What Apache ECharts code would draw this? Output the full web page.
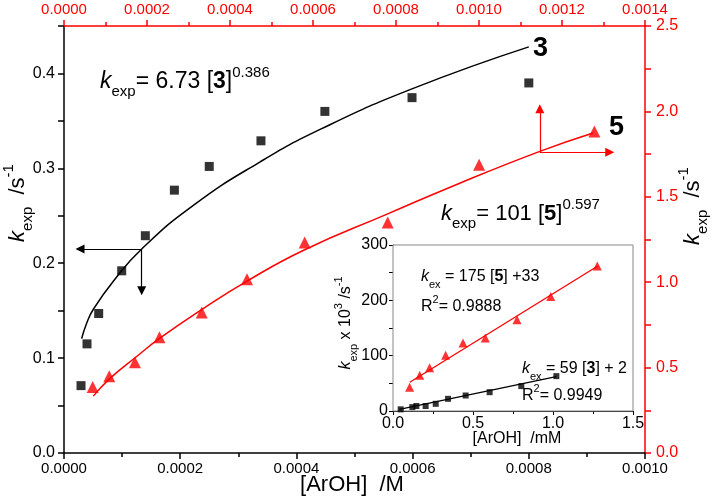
<!DOCTYPE html>
<html><head><meta charset="utf-8">
<script src="https://cdn.jsdelivr.net/npm/echarts@6/dist/echarts.min.js"></script>
<style>html,body{margin:0;padding:0;background:#fff}#c{width:718px;height:503px}</style>
</head><body><div id="c"></div>
<script>
const FONT = "'Liberation Sans', Arial, sans-serif";
const RED = '#ff0000';

// ---- main plot, compound 3 (bottom [ArOH]/M axis, left k_exp axis)
const x3 = [2.93e-5, 3.96e-5, 5.97e-5, 9.93e-5, 1.40e-4, 1.90e-4, 2.50e-4, 3.39e-4, 4.49e-4, 5.99e-4, 8.00e-4];
const y3 = [0.071, 0.115, 0.147, 0.192, 0.229, 0.277, 0.302, 0.329, 0.360, 0.3745, 0.390];
const fit3X = [3.04e-5, 3.9e-5, 5.05e-5, 8.49e-5, 1.337e-4, 2.226e-4, 3.37e-4, 4.435e-4, 6.0e-4, 8.0e-4];
const fit3Y = [0.1205, 0.1367, 0.1515, 0.181, 0.215, 0.261, 0.3066, 0.3418, 0.384, 0.428];

// ---- main plot, compound 5 (top [ArOH]/M axis, right k_exp axis)
const x5 = [6.91e-5, 1.09e-4, 1.71e-4, 2.30e-4, 3.32e-4, 4.41e-4, 5.80e-4, 7.80e-4, 1.0003e-3, 1.278e-3];
const y5 = [0.387, 0.450, 0.532, 0.677, 0.822, 1.018, 1.232, 1.350, 1.687, 1.882];
const fit5X = [7.06e-5, 1.108e-4, 1.751e-4, 2.31e-4, 3.32e-4, 4.40e-4, 5.80e-4, 7.80e-4, 9.42e-4, 1.1465e-3, 1.275e-3];
const fit5Y = [0.333, 0.437, 0.565, 0.672, 0.840, 1.005, 1.190, 1.400, 1.568, 1.766, 1.874];

// ---- axis-indicator arrows (data coordinates)
const arrow3From = [1.337e-4, 0.215];
const arrow3To = [[2.75e-5, 0.215], [1.337e-4, 0.171]];
const arrow5From = [1.1465e-3, 1.7606];
const arrow5To = [[1.1465e-3, 2.015], [1.315e-3, 1.7606]];

// ---- inset ([ArOH]/mM vs k_exp x 10^3)
const inX5 = [0.104, 0.167, 0.229, 0.329, 0.4375, 0.577, 0.775, 0.986, 1.277];
const inY5 = [43, 64.5, 78, 100.7, 123, 132, 165, 207, 262];
const inFit5X = [0.105, 1.28];
const inFit5Y = [52, 262];
const inX3 = [0.048, 0.121, 0.146, 0.204, 0.267, 0.344, 0.454, 0.604, 0.802, 1.021];
const inY3 = [3, 7, 9, 9, 13, 22, 28, 34, 45, 63];
const inFit3X = [0.04, 1.02];
const inFit3Y = [3, 62];

// ---- tick settings
const mainXTicks = {min: 0, max: 0.0010, interval: 0.0002};
const topXTicks = {min: 0, max: 0.0014, interval: 0.0002};
const leftYTicks = {min: 0, max: 0.45, interval: 0.05, labelStep: 0.1};
const rightYTicks = {min: 0, max: 2.5, interval: 0.25, labelStep: 0.5};
const inXTicks = {min: 0, max: 1.5, interval: 0.5};
const inYTicks = {min: 0, max: 300, interval: 50, labelStep: 100};

const zip = (a, b) => a.map((v, i) => [v, b[i]]);
const isMult = (v, s) => Math.abs(v / s - Math.round(v / s)) < 1e-6;

function axisBase(color, lw, tickLen, fontSize, margin) {
  return {
    type: 'value',
    axisLine: {show: true, onZero: false, lineStyle: {color, width: lw}},
    axisTick: {show: true, inside: false, length: tickLen, lineStyle: {color, width: lw}},
    splitLine: {show: false},
    axisLabel: {color, fontSize, fontFamily: FONT, margin, showMinLabel: true, showMaxLabel: true, hideOverlap: false}
  };
}

function T(x, y, text, rich, align, rotation, extra) {
  return Object.assign({
    type: 'text', x, y, rotation: rotation || 0, z: 10, silent: true,
    style: {text, rich, align: align || 'left', verticalAlign: 'middle', fontFamily: FONT}
  }, extra || {});
}

function eqRich(color, fs, subFs, lh, subLh, supLh) {
  const f = {fontFamily: FONT, color};
  return {
    k: Object.assign({fontSize: fs, fontStyle: 'italic', lineHeight: lh}, f),
    n: Object.assign({fontSize: fs, lineHeight: lh}, f),
    b: Object.assign({fontSize: fs, fontWeight: 'bold', lineHeight: lh}, f),
    sub: Object.assign({fontSize: subFs, lineHeight: subLh, verticalAlign: 'bottom'}, f),
    sup: Object.assign({fontSize: subFs, lineHeight: supLh, verticalAlign: 'top'}, f)
  };
}

const chart = echarts.init(document.getElementById('c'), null, {renderer: 'canvas'});

const xBottom = Object.assign(axisBase('#000', 1.5, 6, 15, 8), {
  gridIndex: 0, position: 'bottom', min: mainXTicks.min, max: mainXTicks.max, interval: mainXTicks.interval,
  minorTick: {show: true, splitNumber: 2, length: 4, lineStyle: {color: '#000', width: 1.5}}
});
xBottom.axisLabel.formatter = v => v.toFixed(4);

const xTop = Object.assign(axisBase(RED, 1.5, 6, 15, 9), {
  gridIndex: 0, position: 'top', min: topXTicks.min, max: topXTicks.max, interval: topXTicks.interval,
  minorTick: {show: true, splitNumber: 2, length: 4, lineStyle: {color: RED, width: 1.5}}
});
xTop.axisLabel.formatter = v => v.toFixed(4);

const xInset = Object.assign(axisBase('#000', 1, 4, 16, 5), {
  gridIndex: 1, position: 'bottom', min: inXTicks.min, max: inXTicks.max, interval: inXTicks.interval,
  minorTick: {show: true, splitNumber: 2, length: 3, lineStyle: {color: '#000', width: 1}}
});
xInset.axisLabel.formatter = v => v.toFixed(1);

const yLeft = Object.assign(axisBase('#000', 1.5, 6, 16, 9), {
  gridIndex: 0, position: 'left', min: leftYTicks.min, max: leftYTicks.max, interval: leftYTicks.interval
});
yLeft.axisLabel.formatter = v => isMult(v, leftYTicks.labelStep) ? v.toFixed(1) : '';

const yRight = Object.assign(axisBase(RED, 1.5, 6, 16, 11), {
  gridIndex: 0, position: 'right', min: rightYTicks.min, max: rightYTicks.max, interval: rightYTicks.interval
});
yRight.axisLabel.formatter = v => isMult(v, rightYTicks.labelStep) ? v.toFixed(1) : '';

const yInset = Object.assign(axisBase('#000', 1, 4, 16, 5), {
  gridIndex: 1, position: 'left', min: inYTicks.min, max: inYTicks.max, interval: inYTicks.interval
});
yInset.axisLabel.formatter = v => isMult(v, inYTicks.labelStep) ? String(Math.round(v)) : '';

function arrowMarkLine(color, from, tos) {
  return {
    silent: true, animation: false,
    symbol: ['none', 'triangle'], symbolSize: 9,
    label: {show: false},
    lineStyle: {color, width: 1.2, type: 'solid'},
    emphasis: {disabled: true},
    data: tos.map(t => [{coord: from}, {coord: t}])
  };
}

const mainRich = eqRich('#000', 23, 15, 34, 10, 10);
const mainRichR = eqRich(RED, 22, 15, 34, 10, 10);
const inRich = c => {
  const r = eqRich(c, 16, 11, 26, 8, 8);
  r.sup2 = {fontFamily: FONT, color: c, fontSize: 11, lineHeight: 16, verticalAlign: 'top'};
  return r;
};
const axNameRich = c => eqRich(c, 22, 15, 34, 10, 10);
const inAxRich = eqRich('#000', 16, 11, 26, 8, 8);

const fitLine = (xi, yi, x, y, color) => ({
  type: 'line', xAxisIndex: xi, yAxisIndex: yi, data: zip(x, y), smooth: 0.5,
  symbol: 'none', lineStyle: {color, width: 1.5}, z: 2
});

const option = {
  animation: false,
  backgroundColor: '#fff',
  grid: [
    {left: 64, right: 73, top: 26, bottom: 50, containLabel: false},
    {left: 393, top: 245, width: 240, height: 166, show: true, backgroundColor: '#fff', borderColor: '#888', borderWidth: 1, z: 1}
  ],
  xAxis: [xBottom, xTop, xInset],
  yAxis: [yLeft, yRight, yInset],
  series: [
    Object.assign(fitLine(0, 0, fit3X, fit3Y, '#000'), {markLine: arrowMarkLine('#000', arrow3From, arrow3To)}),
    {type: 'scatter', xAxisIndex: 0, yAxisIndex: 0, data: zip(x3, y3), symbol: 'rect', symbolSize: 9,
     itemStyle: {color: '#000'}, z: 3},
    Object.assign(fitLine(1, 1, fit5X, fit5Y, RED), {markLine: arrowMarkLine(RED, arrow5From, arrow5To)}),
    {type: 'scatter', xAxisIndex: 1, yAxisIndex: 1, data: zip(x5, y5), symbol: 'triangle', symbolSize: 12,
     itemStyle: {color: RED}, z: 3},
    {type: 'line', xAxisIndex: 2, yAxisIndex: 2, data: zip(inFit5X, inFit5Y), symbol: 'none',
     lineStyle: {color: RED, width: 1.3}, z: 4},
    {type: 'scatter', xAxisIndex: 2, yAxisIndex: 2, data: zip(inX5, inY5), symbol: 'triangle', symbolSize: 9,
     itemStyle: {color: RED}, z: 5},
    {type: 'line', xAxisIndex: 2, yAxisIndex: 2, data: zip(inFit3X, inFit3Y), symbol: 'none',
     lineStyle: {color: '#000', width: 1.3}, z: 4},
    {type: 'scatter', xAxisIndex: 2, yAxisIndex: 2, data: zip(inX3, inY3), symbol: 'rect', symbolSize: 6,
     itemStyle: {color: '#000'}, z: 5}
  ],
  graphic: [
    T(100, 82, '{k|k}{sub|exp}{n|= 6.73 [}{b|3}{n|]}{sup|0.386}', mainRich),
    T(441, 214, '{k|k}{sub|exp}{n|= 101 [}{b|5}{n|]}{sup|0.597}', mainRichR),
    T(533, 49, '{b|3}', {b: {fontFamily: FONT, fontSize: 27, fontWeight: 'bold', color: '#000'}}),
    T(609, 128, '{b|5}', {b: {fontFamily: FONT, fontSize: 27, fontWeight: 'bold', color: RED}}),
    // inset equations
    T(421, 277, '{k|k}{sub|ex}{n| = 175 [}{b|5}{n|] +33}', inRich(RED)),
    T(421, 307, '{n|R}{sup2|2}{n|= 0.9888}', inRich(RED)),
    T(522, 369, '{k|k}{sub|ex}{n| = 59 [}{b|3}{n|] + 2}', inRich('#000')),
    T(522, 396, '{n|R}{sup2|2}{n|= 0.9949}', inRich('#000')),
    // axis names
    T(18, 203, '{k|k}{sub|exp}{n|  /s}{sup|-1}', axNameRich('#000'), 'center', Math.PI / 2),
    T(693, 206, '{k|k}{sub|exp}{n|  /s}{sup|-1}', axNameRich(RED), 'center', Math.PI / 2),
    T(352, 485, '{n|[ArOH]  /M}', {n: {fontFamily: FONT, fontSize: 22, color: '#000'}}, 'center'),
    T(346, 323, '{k|k}{sub|exp}{n| x 10}{sup|3}{n| /s}{sup|-1}', inAxRich, 'center', Math.PI / 2),
    T(517, 439, '{n|[ArOH]  /mM}', {n: {fontFamily: FONT, fontSize: 16, color: '#000'}}, 'center')
  ]
};
chart.setOption(option);
</script>
</body></html>
